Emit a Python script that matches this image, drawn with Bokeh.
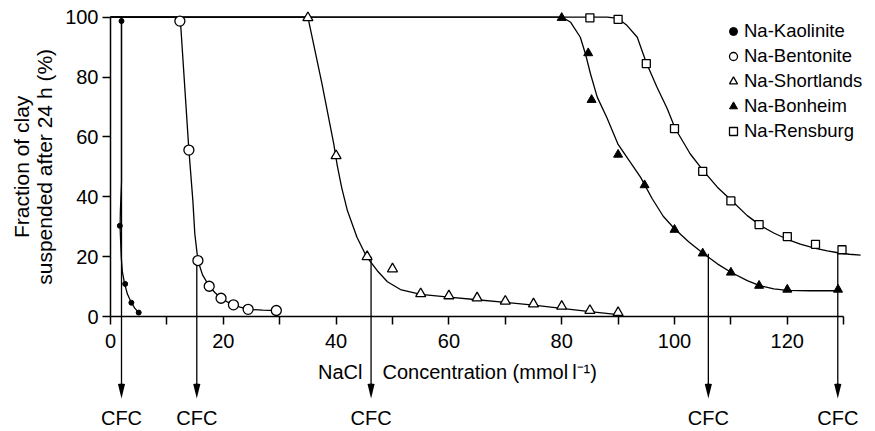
from math import pi
from bokeh.plotting import figure
from bokeh.models import Range1d, FixedTicker, Label, Legend, LegendItem
from bokeh.core.properties import value
from bokeh.embed import file_html
from bokeh.resources import INLINE

# ---------------- data ----------------
kaol_x = [1.95, 1.65, 2.6, 3.7, 5.0]
kaol_y = [98.7, 30.3, 10.9, 4.6, 1.3]
bent_x = [12.3, 13.9, 15.5, 17.5, 19.6, 21.8, 24.4, 29.4]
bent_y = [98.7, 55.6, 18.7, 10.1, 6.1, 3.9, 2.4, 2.0]
short_x = [35, 40, 45.5, 50, 55, 60, 65, 70, 75, 80, 85, 90]
short_y = [99.8, 53.7, 20.0, 15.9, 7.6, 6.9, 6.2, 5.1, 4.2, 3.4, 2.0, 1.3]
bon_x = [80, 84.7, 85.3, 90, 94.7, 100, 105, 110, 115, 120, 129]
bon_y = [99.8, 88.0, 72.4, 54.1, 43.9, 29.0, 21.1, 14.7, 10.3, 9.0, 9.0]
rens_x = [85, 90, 95, 100, 105, 110, 115, 120, 125, 129.7]
rens_y = [99.8, 99.3, 84.5, 62.8, 48.5, 38.6, 30.7, 26.7, 24.1, 22.3]

# fitted curves
kaol_fit_x = [0, 1.95, 1.95, 1.75, 1.7, 1.8, 1.9, 2.1, 2.5, 3.0, 3.7, 4.3, 5.0]
kaol_fit_y = [100, 100, 45, 35, 30, 25, 20, 15, 11, 7.5, 4.6, 2.8, 1.3]
bent_fit_x = [0, 12.2, 12.4, 13.9, 14.6, 14.95, 15.5, 16.3, 17.5, 18.5, 19.6,
              20.7, 21.8, 23.0, 24.4, 27.0, 29.4]
bent_fit_y = [100, 100, 98.7, 55.6, 38.8, 27.6, 18.7, 14.0, 10.1, 8.0, 6.1,
              4.9, 3.9, 3.1, 2.4, 2.1, 2.0]
short_fit_x = [0, 35, 37.5, 39.6, 40.2, 41.0, 42.0, 43.7, 45.4, 47.3, 49.1,
               51.4, 55, 60, 65, 70, 75, 80, 85, 90]
short_fit_y = [100, 100, 77.7, 57.5, 50.5, 43.0, 35.4, 26.5, 20.0, 15.3, 11.6,
               9.0, 7.4, 6.5, 5.6, 4.7, 3.8, 2.7, 1.6, 0.6]
bon_fit_x = [0, 80.1, 81.6, 83.3, 84.2, 85.1, 86.3, 88, 90, 92, 94, 96, 98,
             100, 102.5, 105, 107.6, 110, 112.9, 115, 117.6, 120, 124, 129]
bon_fit_y = [100, 100, 98.3, 93.3, 87.8, 81.1, 73.3, 66.5, 57.5, 52, 46.5,
             39.5, 33.5, 29.3, 25.0, 21.2, 17.6, 14.8, 12.0, 10.4, 9.2, 8.7,
             8.6, 8.6]
rens_fit_x = [0, 88.1, 90, 91.6, 93.4, 95, 96.9, 98.7, 100.1, 102.8, 105.2,
              107.6, 110.2, 112.9, 115.4, 117.6, 120, 122.3, 125, 127.1, 129,
              131, 133]
rens_fit_y = [100, 100, 99.6, 97.2, 93.3, 84.8, 76.6, 69.5, 62.9, 54.3, 48.5,
              43.2, 38.6, 33.7, 30.2, 27.9, 25.8, 24.2, 22.8, 21.9, 21.3,
              20.8, 20.5]

# critical flocculation concentrations (arrows)
cfc_x = [1.95, 15.3, 46.2, 106.0, 128.95]
cfc_top = [100, 18.7, 20.0, 21.0, 21.4]
cfc_labels = ["CFC", "CFC", "CFC", "CFC", "CFC"]

series_names = ["Na-Kaolinite", "Na-Bentonite", "Na-Shortlands",
                "Na-Bonheim", "Na-Rensburg"]
x_ticks = [0, 20, 40, 60, 80, 100, 120]
x_minor = [10, 30, 50, 70, 90, 110, 130]
y_ticks = [0, 20, 40, 60, 80, 100]

# ---------------- layout ----------------
W, H = 875, 431
X0, Y0 = 110, 316          # screen position of the data origin
SX, SY = 5.64, 2.993       # pixels per data unit
FONT = "Liberation Sans"

def dx(px):
    return (px - X0) / SX

def dy(py):
    return (Y0 - py) / SY

p = figure(width=W, height=H, output_backend="svg", toolbar_location=None,
           x_range=Range1d(dx(0), dx(W)), y_range=Range1d(dy(H), dy(0)),
           min_border=0, title=None)
p.outline_line_color = None
p.grid.visible = False

xa = p.xaxis[0]
xa.fixed_location = 0
xa.bounds = (0, 130)
xa.ticker = FixedTicker(ticks=x_ticks, minor_ticks=x_minor)
ya = p.yaxis[0]
ya.fixed_location = 0
ya.bounds = (0, 100)
ya.ticker = FixedTicker(ticks=y_ticks, minor_ticks=[])
for ax in (xa, ya):
    ax.axis_line_width = 1.5
    ax.axis_line_color = "black"
    ax.major_tick_line_width = 1.5
    ax.minor_tick_line_width = 1.5
    ax.major_tick_line_color = "black"
    ax.minor_tick_line_color = "black"
    ax.major_tick_out = 8
    ax.major_tick_in = 0
    ax.minor_tick_out = 8
    ax.minor_tick_in = 0
    ax.major_label_text_font = FONT
    ax.major_label_text_font_size = "20px"
    ax.major_label_text_color = "black"
xa.major_label_standoff = 9
ya.major_label_standoff = 4

LW = 1.3
# fitted curves
for fx, fy in [(kaol_fit_x, kaol_fit_y), (bent_fit_x, bent_fit_y),
               (short_fit_x, short_fit_y), (bon_fit_x, bon_fit_y),
               (rens_fit_x, rens_fit_y)]:
    p.line(fx, fy, line_color="black", line_width=LW)

# CFC arrows
tip_y = dy(398)
p.segment(x0=cfc_x, y0=cfc_top, x1=cfc_x, y1=[tip_y + 2] * len(cfc_x),
          line_color="black", line_width=LW)
p.wedge(x=cfc_x, y=[tip_y] * len(cfc_x), radius=15, radius_units="screen",
        start_angle=pi / 2 - 0.24, end_angle=pi / 2 + 0.24,
        fill_color="black", line_color=None)
p.text(x=cfc_x, y=[dy(417)] * len(cfc_x), text=cfc_labels,
       text_align="center", text_baseline="middle",
       text_font=value(FONT), text_font_size="20px", text_color="black")

# data markers
rk = p.scatter(kaol_x, kaol_y, marker="circle", size=5, fill_color="black",
               line_color="black", line_width=1)
rb = p.scatter(bent_x, bent_y, marker="circle", size=10, fill_color="white",
               line_color="black", line_width=LW)
rs = p.scatter(short_x, short_y, marker="triangle", size=10,
               fill_color="white", line_color="black", line_width=LW)
rh = p.scatter(bon_x, bon_y, marker="triangle", size=9, fill_color="black",
               line_color="black", line_width=1)
rr = p.scatter(rens_x, rens_y, marker="square", size=8, fill_color="white",
               line_color="black", line_width=LW)

legend = Legend(
    items=[LegendItem(label=n, renderers=[r])
           for n, r in zip(series_names, [rk, rb, rs, rh, rr])],
    location=(723, 289), glyph_width=20, glyph_height=20, label_standoff=1,
    spacing=3, padding=0, margin=0, border_line_color=None,
    background_fill_alpha=0, label_text_font=FONT, label_text_color="black",
    label_text_font_size="18.5px", label_height=20)
p.add_layout(legend)

# axis titles
TXT = dict(text_font=FONT, text_font_size="20px", text_color="black",
           text_baseline="middle")
YT = dict(TXT, text_font_size="21px")
p.add_layout(Label(x=dx(21), y=50, text="Fraction of clay", angle=pi / 2,
                   text_align="center", **YT))
p.add_layout(Label(x=dx(44), y=50, text="suspended after 24 h (%)",
                   angle=pi / 2, text_align="center", **YT))
p.add_layout(Label(x=dx(362), y=dy(371), text="NaCl", text_align="right",
                   **TXT))
p.add_layout(Label(x=dx(382), y=dy(371),
                   text="Concentration (mmol\u2009l\u207b\u00b9)",
                   text_align="left", **TXT))

open("out.html", "w").write(file_html(p, INLINE))
